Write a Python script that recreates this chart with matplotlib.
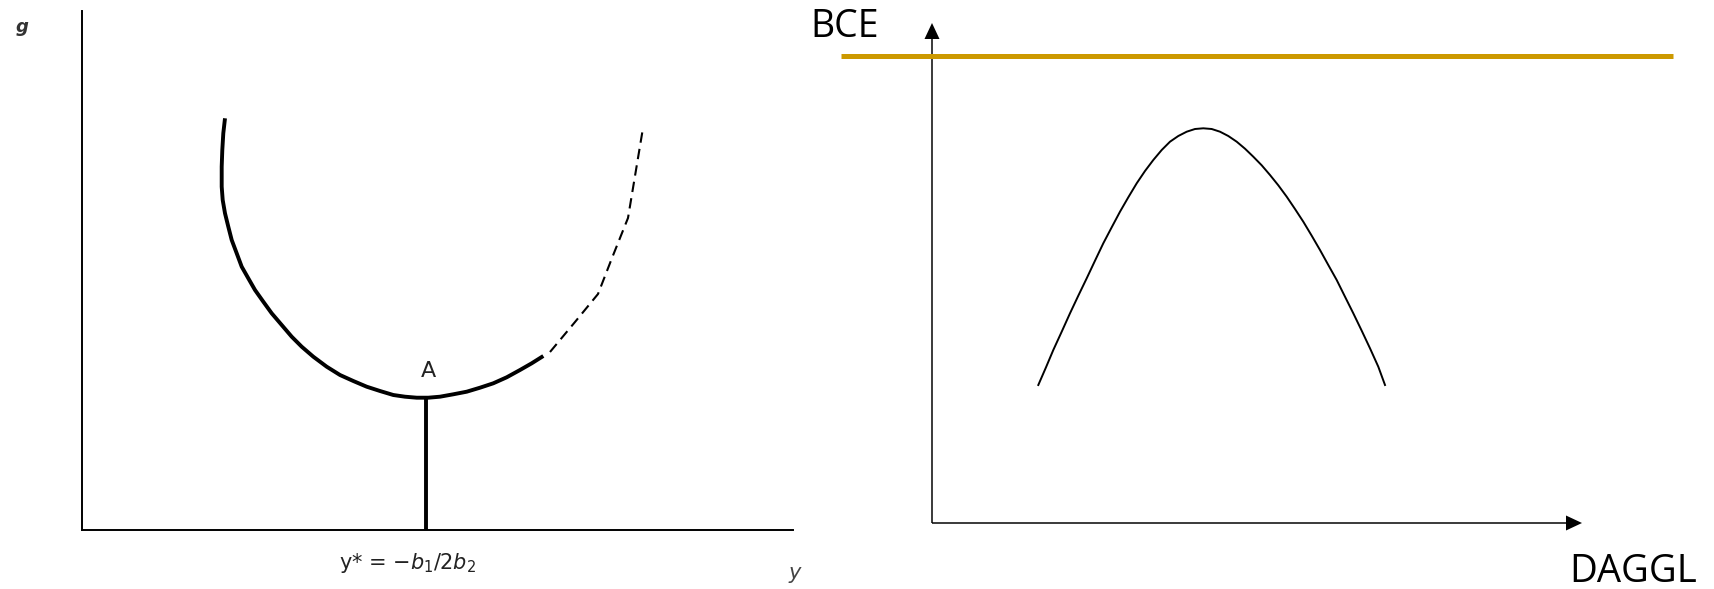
import numpy as np
import matplotlib
matplotlib.use("Agg")
import matplotlib.pyplot as plt

# left panel: U-shaped curve (solid part, dashed extension), arbitrary units
u_x = [143, 141.3, 140.3, 139.7, 139.7, 140.7, 143, 146.3, 149.7, 154.7,
       159.7, 166.3, 173, 181.3, 189.7, 199.7, 209.7, 219.7, 231.3, 244.7,
       258, 271.3, 284.7, 298, 311.3, 323, 334.7, 346.3, 358, 371.3, 384.7,
       398, 411.3, 424.7, 438, 449.7, 461.3]
u_y = [411.7, 396.7, 380, 363.3, 343.3, 330, 316.7, 303.3, 290, 276.7,
       263.3, 251.7, 240, 228.3, 216.7, 205, 193.3, 183.3, 173.3, 163.3,
       155, 149, 143.3, 139, 135, 133.3, 132.3, 132.3, 133.3, 135.7, 138.3,
       142.3, 146.7, 152.7, 160, 166.7, 174]
dash_x = [468, 493, 516, 530, 546, 554, 561]
dash_y = [178, 208, 236, 272, 312, 360, 402]
a_x = 344
a_y = 132

# right panel: hump curve and the BCE level
hump_x = [106.3, 114, 121.3, 129.7, 138, 146.3, 154.7, 163, 171.3, 179.7,
          188, 196.3, 204.7, 213, 221.3, 229.7, 238, 246.3, 254.7, 263,
          271.3, 279.7, 288, 296.3, 304.7, 313, 321.3, 329.7, 338, 346.3,
          354.7, 363, 371.3, 379.7, 388, 396.3, 404.7, 413, 421.3, 429.7,
          438, 446.3, 453]
hump_y = [138, 155.7, 173, 191.3, 209.7, 227.3, 244.7, 262.3, 279.7, 295.7,
          311.3, 325.7, 339.7, 352, 363, 373, 381.3, 387, 391.3, 394,
          394.7, 394, 391.3, 387, 381.3, 374.3, 366.3, 357.7, 348, 337.7,
          326.3, 314, 301.3, 287.3, 273, 258, 243, 226.3, 209.7, 192.3,
          174.7, 156.3, 138]
bce_level = 467
bce_span = [-91, 741]

W, H = 1715, 589
fig = plt.figure(figsize=(W / 100, H / 100), dpi=100)

# ---- left panel ----
ax1 = fig.add_axes([82 / W, 59 / H, 711 / W, 519 / H])
ax1.set_xlim(0, 711)
ax1.set_ylim(0, 519)
for s in ["top", "right"]:
    ax1.spines[s].set_visible(False)
for s in ["left", "bottom"]:
    ax1.spines[s].set_linewidth(1.4)
ax1.set_xticks([])
ax1.set_yticks([])

ax1.plot(u_x, u_y, color="black", lw=2.8, solid_capstyle="butt",
         solid_joinstyle="round")
ax1.plot(dash_x, dash_y, color="black", lw=1.5, dashes=(5, 3))
ax1.plot([a_x, a_x], [0, a_y], color="black", lw=2.8)
ax1.text(a_x + 2, a_y + 17, "A", ha="center", va="bottom", fontsize=16,
         color="#222222")

fig.text(22 / W, 1 - 27 / H, "g", ha="center", va="center", fontsize=13,
         style="italic", weight="bold", color="#333333")
fig.text(407 / W, 1 - 563 / H, r"y* = $-b_1/2b_2$", ha="center", va="center",
         fontsize=15, color="#222222")
fig.text(795 / W, 1 - 573 / H, "y", ha="center", va="center", fontsize=15,
         style="italic", color="#444444")

# ---- right panel ----
ax2 = fig.add_axes([780 / W, 0, 935 / W, 1])
ax2.set_xlim(-152, 783)
ax2.set_ylim(-66, 523)
ax2.axis("off")

ax2.plot(bce_span, [bce_level, bce_level], color="#CC9900", lw=3.6,
         solid_capstyle="butt")
ax2.arrow(0, 0, 0, 500, width=1.5, head_width=15, head_length=16,
          length_includes_head=True, fc="black", ec="black", lw=0)
ax2.arrow(0, 0, 650, 0, width=1.5, head_width=15, head_length=16,
          length_includes_head=True, fc="black", ec="black", lw=0)
ax2.plot(hump_x, hump_y, color="black", lw=1.4, solid_joinstyle="round")

ax2.text(-122, 486, "BCE", ha="left", va="baseline", fontsize=27,
         family="Open Sans")
ax2.text(637, -59, "DAGGL", ha="left", va="baseline", fontsize=27.5,
         family="Open Sans")

fig.savefig("out.png", dpi=100, facecolor="white")
